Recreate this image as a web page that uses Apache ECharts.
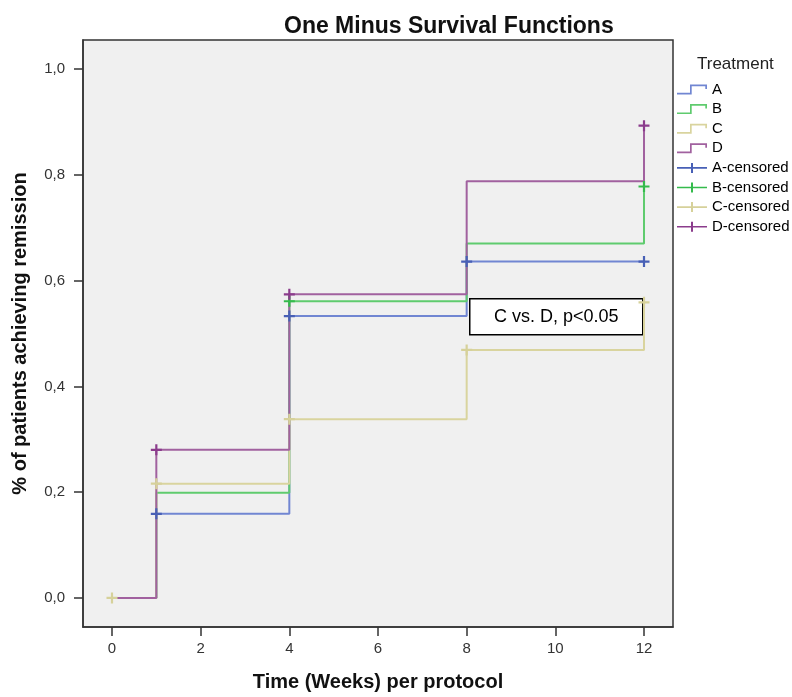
<!DOCTYPE html>
<html>
<head>
<meta charset="utf-8">
<script src="https://cdn.jsdelivr.net/npm/echarts@6/dist/echarts.min.js"></script>
<style>
  html, body { margin: 0; padding: 0; background: #fff; }
  #chart { width: 792px; height: 697px; }
</style>
</head>
<body>
<div id="chart"></div>
<script>
// step points (week, 1 - survival)
var weeks = [0, 1, 4, 8, 12];
var valuesA = [0, 0.159, 0.533, 0.636, 0.636];
var valuesB = [0, 0.199, 0.561, 0.670, 0.778];
var valuesC = [0, 0.216, 0.338, 0.469, 0.559];
var valuesD = [0, 0.280, 0.574, 0.788, 0.893];

// censored marks
var censoredA = [[1, 0.159], [4, 0.533], [8, 0.636], [12, 0.636]];
var censoredB = [[4, 0.561], [12, 0.778]];
var censoredC = [[0, 0], [1, 0.216], [4, 0.338], [8, 0.469], [12, 0.559]];
var censoredD = [[1, 0.280], [4, 0.574], [12, 0.893]];

var xTicks = [0, 2, 4, 6, 8, 10, 12];
var yTicks = [0, 0.2, 0.4, 0.6, 0.8, 1.0];

var lineColors = ['#7186d2', '#5fcb6e', '#d9d49e', '#a1619f'];
var markColors = ['#4860b6', '#34bb4c', '#d6d19a', '#8b3c8c'];

var plus = 'path://M4,0 H6 V4 H10 V6 H6 V10 H4 V6 H0 V4 H4 Z';
var stepIcon = 'path://M0,8.3 H13 V0 H30 V4.5 H28.3 V1.7 H14.7 V10 H0 Z';
var censIcon = 'path://M0,4.2 H14 V0 H16 V4.2 H30 V5.8 H16 V10 H14 V5.8 H0 Z';

var font = 'Liberation Sans, Arial, sans-serif';

function steps(vals) {
  return weeks.map(function (w, i) { return [w, vals[i]]; });
}

var names = ['A', 'B', 'C', 'D'];
var stepData = [valuesA, valuesB, valuesC, valuesD];
var censData = [censoredA, censoredB, censoredC, censoredD];

var series = [];
names.forEach(function (n, i) {
  series.push({
    name: n,
    type: 'line',
    step: 'end',
    symbol: 'none',
    data: steps(stepData[i]),
    lineStyle: { color: lineColors[i], width: 2 },
    itemStyle: { color: lineColors[i] },
    animation: false
  });
});
names.forEach(function (n, i) {
  series.push({
    name: n + '-censored',
    type: 'scatter',
    symbol: plus,
    symbolSize: 11,
    data: censData[i],
    itemStyle: { color: markColors[i], opacity: 1 },
    z: 3,
    animation: false
  });
});

var myChart = echarts.init(document.getElementById('chart'));
myChart.setOption({
  backgroundColor: '#fff',
  title: [
    {
      text: 'One Minus Survival Functions',
      left: 279, top: 10,
      textStyle: { fontFamily: font, fontSize: 23, fontWeight: 'bold', color: '#111' }
    },
    {
      text: 'Treatment',
      left: 692, top: 51,
      textStyle: { fontFamily: font, fontSize: 17, fontWeight: 'normal', color: '#222' }
    }
  ],
  legend: {
    orient: 'vertical',
    left: 677, top: 82,
    padding: 0,
    itemWidth: 30,
    itemHeight: 12,
    itemGap: 4.6,
    textStyle: { fontFamily: font, fontSize: 15, color: '#000', lineHeight: 15 },
    data: [
      { name: 'A', icon: stepIcon },
      { name: 'B', icon: stepIcon },
      { name: 'C', icon: stepIcon },
      { name: 'D', icon: stepIcon },
      { name: 'A-censored', icon: censIcon },
      { name: 'B-censored', icon: censIcon },
      { name: 'C-censored', icon: censIcon },
      { name: 'D-censored', icon: censIcon }
    ]
  },
  grid: {
    left: 83, right: 119, top: 40, bottom: 66,
    show: true,
    backgroundColor: '#f0f0f0',
    borderColor: '#333',
    borderWidth: 1.5
  },
  xAxis: {
    type: 'value',
    min: -0.654, max: 12.654,
    name: 'Time (Weeks) per protocol',
    nameLocation: 'middle',
    nameGap: 45,
    nameTextStyle: { fontFamily: font, fontSize: 20, fontWeight: 'bold', color: '#111' },
    axisLine: { show: true, onZero: false, lineStyle: { color: '#333', width: 1.5 } },
    axisTick: { show: true, length: 9, customValues: xTicks, lineStyle: { color: '#333', width: 1.5 } },
    axisLabel: { customValues: xTicks, margin: 14, fontFamily: font, fontSize: 15, color: '#333' },
    splitLine: { show: false }
  },
  yAxis: {
    type: 'value',
    min: -0.055, max: 1.055,
    name: '% of patients achieving remission',
    nameLocation: 'middle',
    nameGap: 53,
    nameTextStyle: { fontFamily: font, fontSize: 20, fontWeight: 'bold', color: '#111' },
    axisLine: { show: true, onZero: false, lineStyle: { color: '#333', width: 1.5 } },
    axisTick: { show: true, length: 9, customValues: yTicks, lineStyle: { color: '#333', width: 1.5 } },
    axisLabel: {
      customValues: yTicks, margin: 18, fontFamily: font, fontSize: 15, color: '#333',
      formatter: function (v) { return v.toFixed(1).replace('.', ','); }
    },
    splitLine: { show: false }
  },
  graphic: [
    {
      type: 'group',
      left: 469, top: 298,
      z: 100,
      children: [
        { type: 'rect', shape: { x: 0, y: 0, width: 173, height: 36 },
          style: { fill: '#fff', stroke: '#000', lineWidth: 1.5 } },
        { type: 'text', x: 86.5, y: 18,
          style: { text: 'C vs. D, p<0.05', fontFamily: font, fontSize: 18, fill: '#000',
                   align: 'center', verticalAlign: 'middle' } }
      ]
    }
  ],
  series: series
});
</script>
</body>
</html>
